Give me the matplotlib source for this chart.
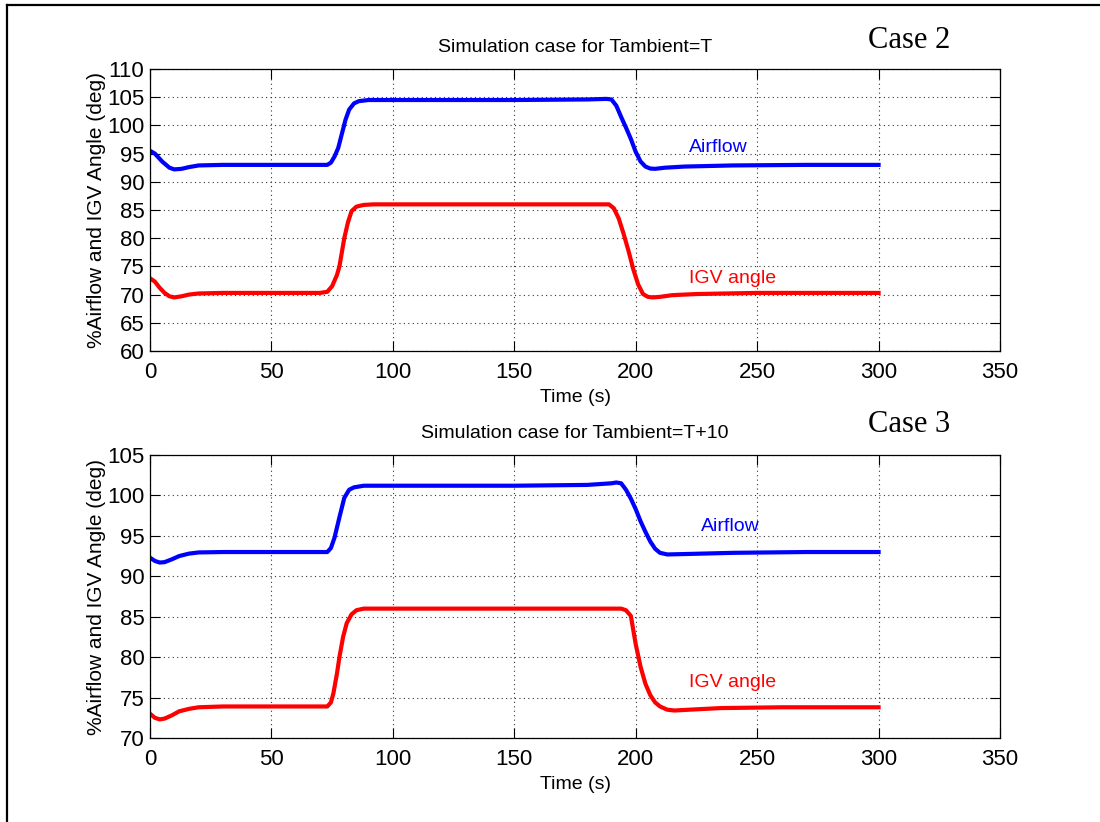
import matplotlib
matplotlib.use('Agg')
import matplotlib.pyplot as plt
from matplotlib.lines import Line2D

plt.rcParams['font.family'] = ['Liberation Sans', 'DejaVu Sans']

# Case 2 : Tambient = T
t_air2 = [0, 2, 5, 8, 10, 13, 16, 20, 30, 50, 70, 73, 74.5, 76, 77.5, 79, 80.5, 82, 84, 86, 90,
          100, 150, 180, 188, 190, 192, 194, 196, 198, 200, 202, 204, 206, 208, 212, 220, 240, 270, 300]
air2 = [95.5, 95.0, 93.6, 92.5, 92.2, 92.3, 92.6, 92.9, 93.0, 93.0, 93.0, 93.0, 93.4, 94.5, 96.0, 98.5,
        101.0, 102.8, 103.9, 104.3, 104.5, 104.5, 104.5, 104.6, 104.7, 104.6, 103.5, 101.5, 99.6, 97.6,
        95.3, 93.6, 92.7, 92.35, 92.3, 92.5, 92.7, 92.9, 93.0, 93.0]

t_igv2 = [0, 2, 4, 6, 8, 10, 13, 16, 20, 30, 50, 70, 73, 75, 77, 78, 80, 81.5, 83, 85, 88, 92,
          150, 189, 191, 193, 195, 197, 199, 201, 203, 205, 207, 210, 215, 225, 250, 300]
igv2 = [72.9, 72.3, 71.2, 70.3, 69.7, 69.5, 69.7, 70.0, 70.2, 70.3, 70.3, 70.3, 70.5, 71.5, 73.5, 75.0,
        80.0, 82.8, 84.8, 85.6, 85.9, 86.0, 86.0, 86.0, 85.3, 83.5, 80.8, 77.8, 74.5, 71.8, 70.1, 69.6,
        69.5, 69.6, 69.9, 70.1, 70.3, 70.3]

# Case 3 : Tambient = T+10
t_air3 = [0, 2, 4, 6, 9, 12, 16, 20, 30, 70, 73, 74.5, 76, 78, 80, 82, 84, 88, 95, 150, 180, 190,
          192, 194, 196, 198, 200, 202, 204, 206, 208, 210, 213, 220, 240, 270, 300]
air3 = [92.3, 91.9, 91.7, 91.75, 92.1, 92.5, 92.8, 92.95, 93.0, 93.0, 93.0, 93.5, 94.8, 97.3, 99.7,
        100.7, 101.0, 101.2, 101.2, 101.2, 101.3, 101.5, 101.6, 101.5, 100.7, 99.6, 98.3, 96.8, 95.5,
        94.3, 93.4, 92.9, 92.7, 92.75, 92.9, 93.0, 93.0]

t_igv3 = [0, 2, 4, 6, 9, 12, 16, 20, 30, 70, 73, 74.5, 75.5, 77, 78, 79.5, 81, 83, 85, 88, 150, 194,
          196, 198, 200, 202, 204, 206, 208, 210, 213, 216, 222, 235, 260, 300]
igv3 = [73.0, 72.5, 72.3, 72.4, 72.8, 73.3, 73.6, 73.8, 73.9, 73.9, 73.9, 74.4, 75.5, 78.0, 80.0, 82.5,
        84.2, 85.3, 85.8, 86.0, 86.0, 86.0, 85.8, 85.1, 81.6, 78.8, 76.7, 75.3, 74.4, 73.9, 73.5, 73.4,
        73.5, 73.7, 73.8, 73.8]

xticks = [0, 50, 100, 150, 200, 250, 300, 350]
yticks2 = [60, 65, 70, 75, 80, 85, 90, 95, 100, 105, 110]
yticks3 = [70, 75, 80, 85, 90, 95, 100, 105]

fig = plt.figure(figsize=(11, 8.22), dpi=100)

# frame around picture (left and top edges only visible)
fig.add_artist(Line2D([7/1100, 7/1100], [0, 1 - 5/822], transform=fig.transFigure, color='black', lw=1.6))
fig.add_artist(Line2D([7/1100, 1], [1 - 5/822, 1 - 5/822], transform=fig.transFigure, color='black', lw=1.6))


def setup(ax, yticks, title, tx_air, ty_air, tx_igv, ty_igv):
    ax.set_xlim(0, 350)
    ax.set_ylim(yticks[0], yticks[-1])
    ax.set_xticks(xticks)
    ax.set_yticks(yticks)
    ax.grid(True, linestyle=(0, (1, 3)), color='#333333', linewidth=0.8)
    ax.tick_params(direction='in', length=7, width=0.8, top=True, right=True, labelsize=16)
    ax.tick_params(axis='x', pad=8)
    ax.tick_params(axis='y', pad=4)
    for s in ax.spines.values():
        s.set_linewidth(0.9)
        s.set_color('black')
    ax.set_xlabel('Time (s)', fontsize=14, labelpad=4)
    ax.set_ylabel('%Airflow and IGV Angle (deg)', fontsize=15, labelpad=1)
    ax.set_title(title, fontsize=14, pad=12)
    ax.text(tx_air, ty_air, 'Airflow', color='blue', fontsize=14, va='center')
    ax.text(tx_igv, ty_igv, 'IGV angle', color='red', fontsize=14, va='center')


ax1 = fig.add_axes([150/1100, 1 - 351/822, 850/1100, 282/822])
ax1.plot(t_air2, air2, color='blue', lw=3)
ax1.plot(t_igv2, igv2, color='red', lw=3)
setup(ax1, yticks2, 'Simulation case for Tambient=T', 222, 96.0, 222, 72.9)

ax2 = fig.add_axes([150/1100, 1 - 738/822, 850/1100, 283/822])
ax2.plot(t_air3, air3, color='blue', lw=3)
ax2.plot(t_igv3, igv3, color='red', lw=3)
setup(ax2, yticks3, 'Simulation case for Tambient=T+10', 227, 96.2, 222, 76.9)

fig.text(909/1100, 1 - 48/822, 'Case 2', family=['Liberation Serif', 'DejaVu Serif'], fontsize=22,
         ha='center', va='baseline')
fig.text(909/1100, 1 - 432/822, 'Case 3', family=['Liberation Serif', 'DejaVu Serif'], fontsize=22,
         ha='center', va='baseline')

fig.savefig('out.png', dpi=100)
